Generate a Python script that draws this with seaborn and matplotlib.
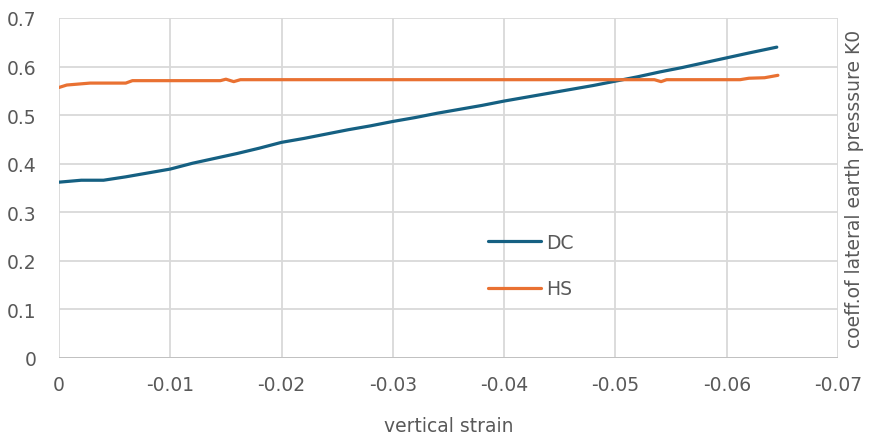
import matplotlib
matplotlib.use("Agg")
import matplotlib.pyplot as plt
import seaborn as sns
import pandas as pd

# ---- data ----
dc_strain = [0, -0.001, -0.002, -0.003, -0.004, -0.006, -0.008, -0.010, -0.012, -0.014,
             -0.016, -0.018, -0.020, -0.022, -0.024, -0.026, -0.028, -0.030, -0.032, -0.034,
             -0.036, -0.038, -0.040, -0.042, -0.044, -0.046, -0.048, -0.050, -0.052, -0.054,
             -0.056, -0.058, -0.060, -0.062, -0.0645]
dc_k0 = [0.362, 0.364, 0.366, 0.366, 0.366, 0.373, 0.381, 0.389, 0.401, 0.411,
         0.421, 0.432, 0.444, 0.452, 0.461, 0.470, 0.478, 0.487, 0.495, 0.504,
         0.512, 0.520, 0.529, 0.537, 0.545, 0.553, 0.561, 0.570, 0.579, 0.589,
         0.598, 0.608, 0.618, 0.628, 0.640]

hs_strain = [0, -0.0007, -0.0028, -0.0060, -0.0066, -0.0145, -0.0150, -0.0157, -0.0163,
             -0.0535, -0.0541, -0.0546, -0.0612, -0.0620, -0.0634, -0.0646]
hs_k0 = [0.557, 0.562, 0.566, 0.566, 0.571, 0.571, 0.574, 0.569, 0.573,
         0.573, 0.569, 0.573, 0.573, 0.576, 0.577, 0.582]

series_names = ["DC", "HS"]
x_ticks = [0, -0.01, -0.02, -0.03, -0.04, -0.05, -0.06, -0.07]
y_ticks = [0, 0.1, 0.2, 0.3, 0.4, 0.5, 0.6, 0.7]

df = pd.concat([
    pd.DataFrame({"strain": dc_strain, "k0": dc_k0, "series": series_names[0]}),
    pd.DataFrame({"strain": hs_strain, "k0": hs_k0, "series": series_names[1]}),
], ignore_index=True)

sns.set_theme(style="whitegrid")
plt.rcParams["font.family"] = ["DejaVu Sans"]
text_color = "#595959"
grid_color = "#d9d9d9"
fs = 13.5

fig = plt.figure(figsize=(8.72, 4.39), dpi=100)
ax = fig.add_axes([59 / 872, 1 - 359 / 439, (838 - 59) / 872, (359 - 19) / 439])

sns.lineplot(data=df, x="strain", y="k0", hue="series", sort=False, estimator=None,
             palette={"DC": "#156082", "HS": "#E97132"}, linewidth=2.3, ax=ax)

ax.set_xlim(0, -0.07)
ax.set_ylim(0, 0.7)
ax.set_xticks(x_ticks)
ax.set_xticklabels(["0" if v == 0 else f"{v:g}" for v in x_ticks])
ax.set_yticks(y_ticks)
ax.set_yticklabels(["0" if v == 0 else f"{v:g}" for v in y_ticks])

ax.grid(True, color=grid_color, linewidth=1.3)
for s in ax.spines.values():
    s.set_visible(False)
ax.axhline(0, color="#bfbfbf", linewidth=1.3, zorder=1)

ax.tick_params(axis="both", length=0, labelsize=fs, labelcolor=text_color)
ax.tick_params(axis="x", pad=12)
ax.tick_params(axis="y", pad=16)

ax.set_xlabel("vertical strain", fontsize=fs, color=text_color, labelpad=16)
ax.yaxis.set_label_position("right")
ax.set_ylabel("coeff.of lateral earth presssure K0", fontsize=fs, color=text_color,
              labelpad=5, rotation=90)

leg = ax.legend(loc="center left", bbox_to_anchor=(488 / 872, 1 - 266.5 / 439),
                bbox_transform=fig.transFigure, frameon=False, fontsize=fs,
                handlelength=2.8, handletextpad=0.3, labelspacing=1.45,
                borderpad=0, borderaxespad=0)
for t in leg.get_texts():
    t.set_color(text_color)
for l in leg.get_lines():
    l.set_linewidth(2.3)

fig.savefig("out.png", dpi=100)
